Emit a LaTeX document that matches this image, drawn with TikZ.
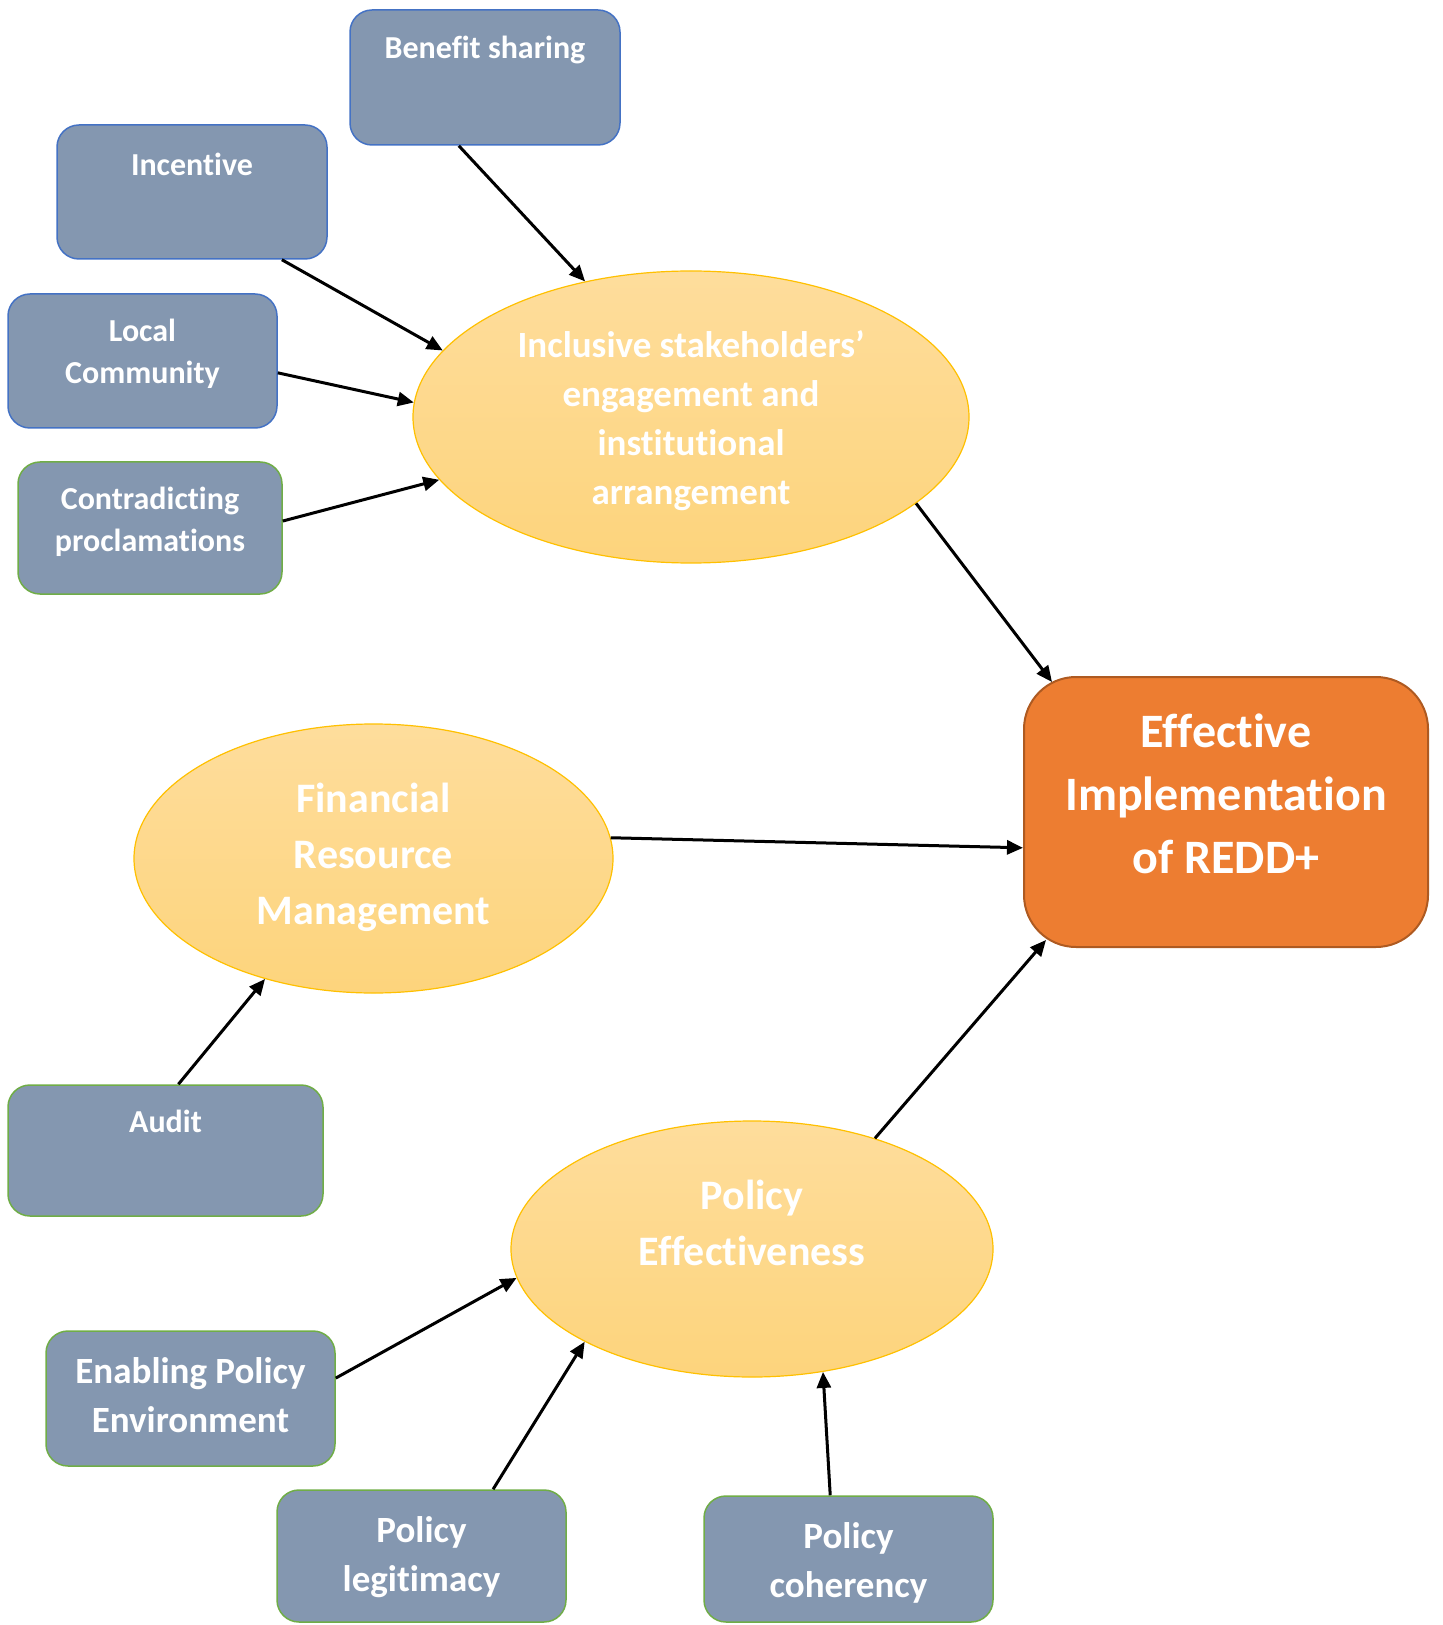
\documentclass[tikz,border=0pt]{standalone}
\usepackage{fontspec}
\setmainfont{Carlito}[RawFeature={-liga;-clig;-calt;-dlig}]
\usetikzlibrary{arrows.meta,shapes.geometric}

% break a letter pair so that the font does not join it
\newcommand{\nolig}{\kern0pt}

\definecolor{boxfill}{HTML}{8497B0}
\definecolor{blueedge}{HTML}{4472C4}
\definecolor{greenedge}{HTML}{70AD47}
\definecolor{ovaltop}{HTML}{FEDD9C}
\definecolor{ovalbottom}{HTML}{FDD47C}
\definecolor{ovaledge}{HTML}{FFC000}
\definecolor{goalfill}{HTML}{ED7D31}
\definecolor{goaledge}{HTML}{AE5A21}

\begin{document}
\begin{tikzpicture}[x=0.5pt,y=-0.5pt,
  factor/.style={rectangle, rounded corners=11pt, fill=boxfill, line width=0.75pt, inner sep=0pt},
  bluebox/.style={factor, draw=blueedge},
  greenbox/.style={factor, draw=greenedge},
  oval/.style={ellipse, draw=ovaledge, line width=0.6pt, top color=ovaltop, bottom color=ovalbottom, inner sep=0pt},
  goal/.style={rectangle, rounded corners=26pt, fill=goalfill, draw=goaledge, line width=1pt, inner sep=0pt},
  wtext/.style={text=white, align=center, inner sep=0pt},
  smalltext/.style={wtext, font=\fontsize{16}{21}\selectfont\bfseries},
  midtext/.style={wtext, font=\fontsize{18.5}{24.5}\selectfont\bfseries},
  bigtext/.style={wtext, font=\fontsize{21}{28}\selectfont\bfseries},
  goaltext/.style={wtext, font=\fontsize{24}{31.5}\selectfont\bfseries},
  link/.style={line width=1.5pt, -{Triangle[length=8pt,width=7pt]}}
]
\useasboundingbox (0,0) rectangle (1442,1625);

% factor boxes around the stakeholder oval
\node[bluebox, minimum width=135pt, minimum height=67.5pt] (benefit) at (485,77.5) {};
\node[bluebox, minimum width=135pt, minimum height=67pt] (incentive) at (192,192) {};
\node[bluebox, minimum width=134.5pt, minimum height=67pt] (local) at (142.5,361) {};
\node[greenbox, minimum width=132pt, minimum height=66pt] (contra) at (150,528) {};

% the three ovals
\node[oval, minimum width=278pt, minimum height=146pt] (incl) at (691,417) {};
\node[oval, minimum width=239.5pt, minimum height=134.5pt] (fin) at (373.5,858.5) {};
\node[oval, minimum width=241pt, minimum height=128pt] (pe) at (752,1249) {};

% outcome box
\node[goal, minimum width=202pt, minimum height=135pt] (goal) at (1226,812) {};

% lower factor boxes
\node[greenbox, minimum width=157.5pt, minimum height=65.5pt] (audit) at (165.5,1150.5) {};
\node[greenbox, minimum width=144.5pt, minimum height=67.5pt] (enabling) at (190.5,1398.5) {};
\node[greenbox, minimum width=144.5pt, minimum height=66pt] (legit) at (421.5,1556) {};
\node[greenbox, minimum width=144.5pt, minimum height=63pt] (coher) at (848.5,1559) {};

% labels
\node[smalltext] (benefit-t) at ([shift={(0,-27.5)}]benefit.center) {Benef\nolig it sharing};
\node[smalltext] (incentive-t) at ([shift={(0,-28)}]incentive.center) {Incent\nolig ive};
\node[smalltext] (local-t) at ([shift={(0,-7)}]local.center) {Local\\Community};
\node[smalltext] (contra-t) at ([shift={(0,-6)}]contra.center) {Contradict\nolig ing\\proclamat\nolig ions};
\node[midtext] (incl-t) at ([shift={(0,3.5)}]incl.center) {Inclusive stakeholders’\\engagement and\\inst\nolig itut\nolig ional\\arrangement};
\node[bigtext] (fin-t) at ([shift={(0,-1.5)}]fin.center) {Financial\\Resource\\Management};
\node[bigtext] (pe-t) at ([shift={(0,-26)}]pe.center) {Policy\\Ef\nolig fect\nolig iveness};
\node[goaltext] (goal-t) at ([shift={(0,-18)}]goal.center) {Ef\nolig fect\nolig ive\\Implementat\nolig ion\\of REDD+};
\node[smalltext] (audit-t) at ([shift={(0,-29.5)}]audit.center) {Audit};
\node[midtext] (enabling-t) at ([shift={(0,-3)}]enabling.center) {Enabling Policy\\Environment};
\node[midtext] (legit-t) at ([shift={(0,1)}]legit.center) {Policy\\legit\nolig imacy};
\node[midtext] (coher-t) at ([shift={(0,4)}]coher.center) {Policy\\coherency};

% connectors
\draw[link] (benefit.-111) -- (incl.128);
\draw[link] (incentive.-37) -- (incl.165);
\draw[link] (local.-5) -- (incl.177);
\draw[link] (contra.3) -- (incl.-166);
\draw[link] (incl.-21) -- ([shift={(29,6)}]goal.north west);
\draw[link] (fin.5) -- (goal.-170.4);
\draw[link] (audit.79.5) -- (fin.-132);
\draw[link] (pe.42) -- ([shift={(23,-8)}]goal.south west);
\draw[link] (enabling.8.4) -- (pe.-173);
\draw[link] (legit.43.5) -- (pe.-151);
\draw[link] (coher.106.4) -- (pe.-60.6);
\end{tikzpicture}
\end{document}
